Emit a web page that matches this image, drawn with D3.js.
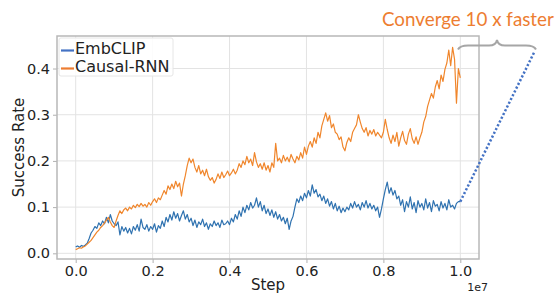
<!DOCTYPE html>
<html><head><meta charset="utf-8">
<script src="https://cdn.jsdelivr.net/npm/d3@7"></script>
<style>body{margin:0;background:#fff}svg{display:block}</style>
</head><body>
<svg id="c" width="559" height="293"></svg>
<script>
// step spacing 0.005 (x 1e7), 201 points
const stepUnit = 0.005;
const causalRNN = [
0.008,0.010,0.012,0.011,0.014,0.016,0.020,0.024,0.028,0.034,
0.040,0.046,0.050,0.056,0.060,0.066,0.072,0.078,0.068,0.060,
0.056,0.070,0.082,0.092,0.086,0.094,0.098,0.092,0.100,0.096,
0.104,0.099,0.106,0.101,0.108,0.102,0.106,0.100,0.110,0.104,
0.112,0.118,0.110,0.120,0.116,0.126,0.136,0.128,0.146,0.138,
0.150,0.140,0.156,0.144,0.152,0.124,0.150,0.168,0.190,0.206,
0.196,0.204,0.186,0.176,0.190,0.172,0.180,0.168,0.182,0.166,
0.158,0.164,0.152,0.160,0.172,0.162,0.176,0.164,0.170,0.178,
0.168,0.174,0.182,0.172,0.180,0.194,0.186,0.200,0.192,0.210,
0.196,0.204,0.190,0.218,0.198,0.186,0.194,0.182,0.196,0.180,
0.190,0.176,0.196,0.186,0.238,0.200,0.206,0.196,0.212,0.200,
0.208,0.198,0.214,0.204,0.196,0.210,0.202,0.218,0.206,0.230,
0.214,0.232,0.242,0.230,0.250,0.238,0.262,0.250,0.276,0.290,
0.304,0.286,0.298,0.272,0.280,0.262,0.258,0.246,0.252,0.230,
0.222,0.240,0.250,0.242,0.262,0.270,0.278,0.300,0.284,0.270,
0.262,0.272,0.254,0.266,0.258,0.268,0.254,0.262,0.256,0.250,
0.262,0.290,0.268,0.250,0.238,0.256,0.242,0.262,0.232,0.250,
0.264,0.244,0.236,0.258,0.270,0.248,0.238,0.252,0.236,0.250,
0.262,0.284,0.296,0.318,0.332,0.346,0.336,0.360,0.374,0.356,
0.386,0.372,0.398,0.412,0.440,0.406,0.446,0.420,0.325,0.400,
0.380];
const embCLIP = [
0.014,0.016,0.013,0.017,0.015,0.018,0.022,0.032,0.044,0.050,
0.058,0.054,0.066,0.060,0.070,0.064,0.078,0.066,0.084,0.070,
0.064,0.060,0.068,0.040,0.058,0.048,0.056,0.044,0.054,0.042,
0.058,0.050,0.062,0.048,0.074,0.056,0.052,0.062,0.048,0.058,
0.052,0.064,0.046,0.060,0.054,0.070,0.058,0.078,0.068,0.084,
0.072,0.090,0.076,0.086,0.070,0.082,0.092,0.074,0.084,0.068,
0.076,0.060,0.072,0.056,0.068,0.062,0.074,0.058,0.066,0.052,
0.064,0.058,0.070,0.060,0.066,0.056,0.072,0.062,0.064,0.070,
0.062,0.076,0.068,0.084,0.074,0.092,0.080,0.100,0.088,0.104,
0.094,0.110,0.098,0.104,0.120,0.100,0.112,0.092,0.104,0.086,
0.096,0.082,0.094,0.078,0.090,0.074,0.084,0.070,0.078,0.064,
0.076,0.052,0.070,0.080,0.100,0.118,0.110,0.124,0.114,0.130,
0.120,0.136,0.124,0.148,0.130,0.138,0.122,0.128,0.114,0.124,
0.108,0.118,0.102,0.112,0.096,0.108,0.092,0.102,0.088,0.098,
0.090,0.100,0.094,0.108,0.098,0.112,0.100,0.106,0.094,0.110,
0.100,0.114,0.098,0.108,0.096,0.104,0.092,0.100,0.078,0.096,
0.118,0.138,0.154,0.130,0.142,0.126,0.136,0.118,0.124,0.104,
0.116,0.090,0.112,0.100,0.122,0.096,0.110,0.088,0.114,0.100,
0.108,0.094,0.118,0.098,0.110,0.090,0.114,0.102,0.106,0.092,
0.112,0.098,0.108,0.094,0.116,0.100,0.104,0.096,0.108,0.112,
0.112];
const projX = [1.0, 1.192];
const projY = [0.112, 0.435];
const xTicks = [0, 0.2, 0.4, 0.6, 0.8, 1.0];
const yTicks = [0, 0.1, 0.2, 0.3, 0.4];
const seriesNames = ["EmbCLIP", "Causal-RNN"];
const annotation = "Converge 10 x faster";

const svg = d3.select("#c");
const L = 57, R = 479, T = 36, B = 259;
const x = d3.scaleLinear().domain([-0.0486, 1.0486]).range([L, R]);
const y = d3.scaleLinear().domain([-0.0123, 0.4704]).range([B, T]);

// grid
svg.append("g").selectAll("line").data(xTicks).join("line")
  .attr("x1", d => x(d)).attr("x2", d => x(d)).attr("y1", T).attr("y2", B)
  .attr("stroke", "#e3e3e3").attr("stroke-width", 1);
svg.append("g").selectAll("line").data(yTicks).join("line")
  .attr("y1", d => y(d)).attr("y2", d => y(d)).attr("x1", L).attr("x2", R)
  .attr("stroke", "#e3e3e3").attr("stroke-width", 1);

// axes
const xa = svg.append("g").attr("transform", `translate(0,${B})`)
  .call(d3.axisBottom(x).tickValues(xTicks).tickFormat(d3.format(".1f")).tickSize(4).tickPadding(3));
const ya = svg.append("g").attr("transform", `translate(${L},0)`)
  .call(d3.axisLeft(y).tickValues(yTicks).tickFormat(d3.format(".1f")).tickSize(4).tickPadding(3));
[xa, ya].forEach(g => {
  g.select(".domain").remove();
  g.selectAll("line").attr("stroke", "#b0b0b0");
  g.selectAll("text").attr("font-family", "DejaVu Sans").attr("font-size", 14.5).attr("fill", "#222");
});

// lines
const line = d3.line().x((d, i) => x(i * stepUnit)).y(d => y(d));
svg.append("path").datum(embCLIP).attr("d", line).attr("fill", "none")
  .attr("stroke", "#2f72b0").attr("stroke-width", 1.2).attr("stroke-linejoin", "round");
svg.append("path").datum(causalRNN).attr("d", line).attr("fill", "none")
  .attr("stroke", "#f0862c").attr("stroke-width", 1.2).attr("stroke-linejoin", "round");

// frame
svg.append("rect").attr("x", L).attr("y", T).attr("width", R - L).attr("height", B - T)
  .attr("fill", "none").attr("stroke", "#b8b8b8").attr("stroke-width", 1.5);

// dotted projection
svg.append("path").datum(projX.map((d, i) => [d, projY[i]]))
  .attr("d", d3.line().x(d => x(d[0])).y(d => y(d[1])))
  .attr("fill", "none").attr("stroke", "#4472c4").attr("stroke-width", 2.5)
  .attr("stroke-dasharray", "2.2 2");

// brace
const bx0 = 458, bx1 = 536, bym = 45.5, byEnd = 49.5, tipX = 497, tipY = 40;
svg.append("path")
  .attr("d", `M${bx0},${byEnd} Q${bx0+2},${bym} ${bx0+10},${bym} L${tipX-8},${bym} Q${tipX-1},${bym} ${tipX},${tipY} Q${tipX+1},${bym} ${tipX+8},${bym} L${bx1-10},${bym} Q${bx1-2},${bym} ${bx1},${byEnd}`)
  .attr("fill", "none").attr("stroke", "#a6a6a6").attr("stroke-width", 2);

// annotation: fit font size so the text spans ~172px
const ann = svg.append("text").attr("x", 382).attr("y", 26).text(annotation)
  .attr("font-family", "Lato, 'Open Sans', sans-serif").attr("font-size", 20)
  .attr("fill", "#ed7d31");
const w0 = ann.node().getComputedTextLength();
ann.attr("font-size", (20 * 172 / w0).toFixed(2));

// legend
const lg = svg.append("g");
lg.append("rect").attr("x", 59).attr("y", 38).attr("width", 114).attr("height", 38)
  .attr("fill", "#fff").attr("fill-opacity", 0.85).attr("stroke", "#e6e6e6").attr("stroke-width", 1).attr("rx", 2);
const legColors = ["#4472c4", "#ed7d31"];
seriesNames.forEach((n, i) => {
  const yy = 50.5 + i * 18;
  lg.append("line").attr("x1", 61).attr("x2", 74).attr("y1", yy).attr("y2", yy)
    .attr("stroke", legColors[i]).attr("stroke-width", 2.2);
  lg.append("text").attr("x", 75).attr("y", 53.5 + i * 18).text(n)
    .attr("font-family", "DejaVu Sans").attr("font-size", 16).attr("fill", "#222");
});

// axis labels
svg.append("text").attr("x", (L + R) / 2).attr("y", 290).attr("text-anchor", "middle")
  .attr("font-family", "DejaVu Sans").attr("font-size", 15).attr("fill", "#222").text("Step");
svg.append("text").attr("x", 488).attr("y", 291).attr("text-anchor", "end")
  .attr("font-family", "DejaVu Sans").attr("font-size", 11).attr("fill", "#222").text("1e7");
svg.append("text").attr("transform", `translate(23.5,${(T + B) / 2}) rotate(-90)`).attr("text-anchor", "middle")
  .attr("font-family", "DejaVu Sans").attr("font-size", 15).attr("fill", "#222").text("Success Rate");
</script>
</body></html>
